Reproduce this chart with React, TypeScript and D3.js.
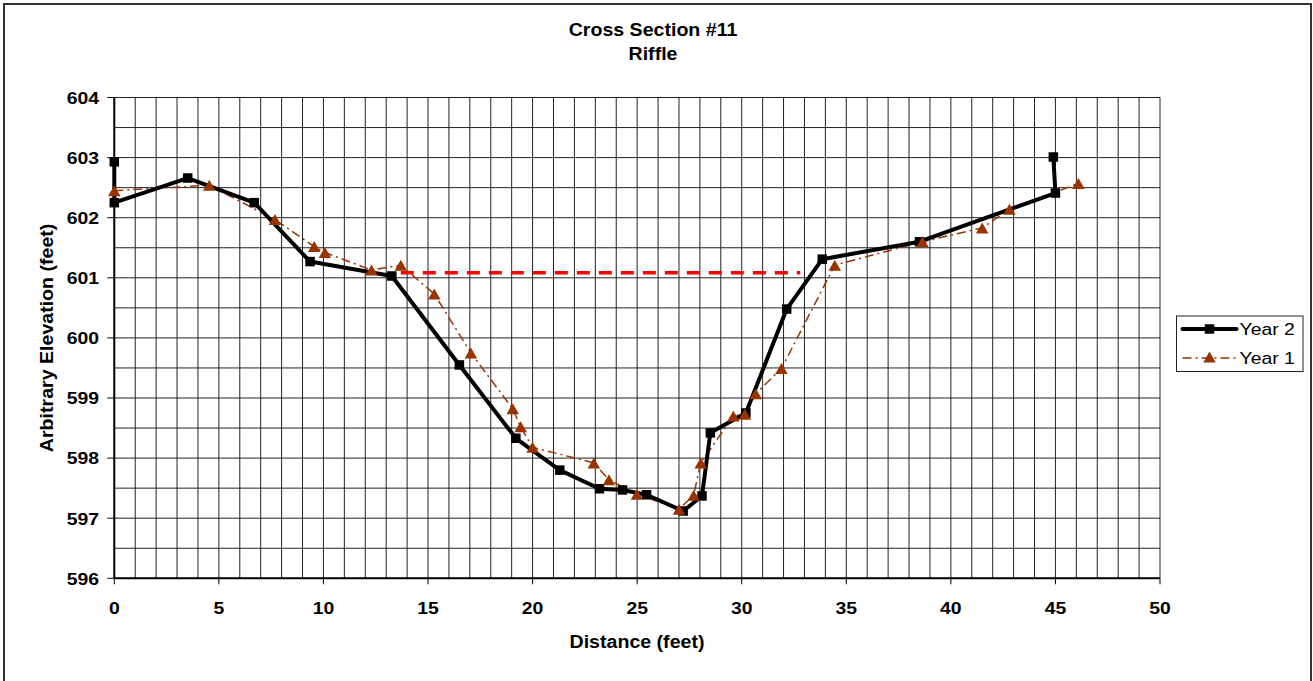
import React from "react";
import * as d3 from "d3";

const year2X = [0, 0, 3.51, 6.69, 9.36, 13.27, 16.5, 19.2, 21.3, 23.2, 24.3, 25.45, 27.2, 28.1, 28.5, 30.2, 32.15, 33.85, 38.5, 45.0, 44.9];
const year2Y = [602.93, 602.25, 602.66, 602.25, 601.27, 601.03, 599.55, 598.33, 597.8, 597.49, 597.47, 597.39, 597.12, 597.37, 598.42, 598.75, 600.48, 601.31, 601.6, 602.41, 603.01];

const year1X = [0, 4.54, 7.68, 9.56, 10.07, 12.3, 13.7, 15.3, 17.05, 19.05, 19.43, 20.0, 22.93, 23.65, 24.99, 27.0, 27.7, 28.04, 29.6, 30.15, 30.67, 31.9, 34.45, 38.64, 41.5, 42.8, 46.1];
const year1Y = [602.45, 602.54, 601.97, 601.52, 601.42, 601.13, 601.21, 600.73, 599.75, 598.82, 598.52, 598.18, 597.92, 597.64, 597.4, 597.15, 597.38, 597.92, 598.7, 598.73, 599.07, 599.49, 601.21, 601.6, 601.83, 602.14, 602.57];

const bankfullX = [13.7, 32.8];
const bankfullY = [601.085, 601.085];

const xTicks = [0, 5, 10, 15, 20, 25, 30, 35, 40, 45, 50];
const yTicks = [596, 597, 598, 599, 600, 601, 602, 603, 604];

const seriesNames = ["Year 2", "Year 1"];

const W = 1313;
const H = 681;
const left = 114.3;
const right = 1160;
const top = 97.5;
const bottom = 578.3;
const FONT = "'Liberation Sans', Arial, sans-serif";
const Y1COLOR = "#993300";
const SX = 1.12;

function T(props: {
  x: number;
  y: number;
  size: number;
  anchor?: string;
  bold?: boolean;
  rotate?: number;
  children: React.ReactNode;
}) {
  const { x, y, size, anchor = "start", bold = false, rotate = 0, children } = props;
  return (
    <text
      transform={`translate(${x},${y}) rotate(${rotate}) scale(${SX},1)`}
      textAnchor={anchor}
      fontWeight={bold ? "bold" : "normal"}
      fontSize={size}
      fill="#000"
    >
      {children}
    </text>
  );
}

export default function App() {
  const x = d3.scaleLinear().domain([0, 50]).range([left, right]);
  const y = d3.scaleLinear().domain([596, 604]).range([bottom, top]);

  const vGrid = d3.range(0, 51, 1);
  const hGrid = d3.range(596, 604.01, 0.5);

  const line = d3
    .line<[number, number]>()
    .x((d) => x(d[0]))
    .y((d) => y(d[1]));

  const y2pts: [number, number][] = year2X.map((v, i) => [v, year2Y[i]]);
  const y1pts: [number, number][] = year1X.map((v, i) => [v, year1Y[i]]);
  const bfpts: [number, number][] = bankfullX.map((v, i) => [v, bankfullY[i]]);

  const sq = 9.5;
  const triW = 12.5;
  const triH = 11;
  const tri = (cx: number, cy: number) =>
    `M${cx},${cy - triH / 2}L${cx + triW / 2},${cy + triH / 2}L${cx - triW / 2},${cy + triH / 2}Z`;

  const legX = 1176.5;
  const legY = 316;

  return (
    <svg
      width={W}
      height={H}
      style={{ position: "absolute", left: 0, top: 0, background: "#fff" }}
      fontFamily={FONT}
    >
      <rect x={4} y={4} width={1307} height={700} fill="#fff" stroke="#333" strokeWidth={2} />

      <T x={653} y={36} size={17.5} anchor="middle" bold>
        Cross Section #11
      </T>
      <T x={653} y={60} size={17.5} anchor="middle" bold>
        Riffle
      </T>

      {/* grid */}
      <g stroke="#222" strokeWidth={1}>
        {vGrid.map((v) => (
          <line key={"v" + v} x1={x(v)} x2={x(v)} y1={top} y2={bottom} />
        ))}
        {hGrid.map((v) => (
          <line key={"h" + v} x1={left} x2={right} y1={y(v)} y2={y(v)} />
        ))}
      </g>

      {/* axes */}
      <line x1={left} x2={left} y1={top} y2={bottom} stroke="#000" strokeWidth={2} />
      <line x1={left} x2={right} y1={bottom} y2={bottom} stroke="#000" strokeWidth={2} />
      {yTicks.map((t) => (
        <g key={"yt" + t}>
          <line x1={left - 7} x2={left} y1={y(t)} y2={y(t)} stroke="#000" strokeWidth={1} />
          <T x={99} y={y(t) + 6.3} size={17.3} anchor="end" bold>
            {t}
          </T>
        </g>
      ))}
      {xTicks.map((t) => (
        <g key={"xt" + t}>
          <line x1={x(t)} x2={x(t)} y1={bottom} y2={bottom + 6} stroke="#000" strokeWidth={1} />
          <T x={x(t)} y={613.5} size={17.3} anchor="middle" bold>
            {t}
          </T>
        </g>
      ))}
      <T x={637} y={648} size={17.5} anchor="middle" bold>
        Distance (feet)
      </T>
      <T x={53} y={(top + bottom) / 2} size={17.5} anchor="middle" bold rotate={-90}>
        Arbitrary Elevation (feet)
      </T>

      {/* bankfull line */}
      <path d={line(bfpts) || ""} fill="none" stroke="#ff0000" strokeWidth={3.5} strokeDasharray="13,9" />

      {/* Year 1 */}
      <path
        d={line(y1pts) || ""}
        fill="none"
        stroke={Y1COLOR}
        strokeWidth={1.5}
        strokeDasharray="9,4,2,4"
      />
      {/* Year 2 */}
      <path d={line(y2pts) || ""} fill="none" stroke="#000" strokeWidth={4} strokeLinejoin="round" />
      {y2pts.map((p, i) => (
        <rect key={"s" + i} x={x(p[0]) - sq / 2} y={y(p[1]) - sq / 2} width={sq} height={sq} fill="#000" />
      ))}
      {y1pts.map((p, i) => (
        <path key={"t" + i} d={tri(x(p[0]), y(p[1]))} fill={Y1COLOR} />
      ))}

      {/* legend */}
      <rect x={legX} y={legY} width={126.5} height={55.5} fill="#fff" stroke="#222" strokeWidth={1} />
      <line x1={legX + 6} x2={legX + 60} y1={legY + 13} y2={legY + 13} stroke="#000" strokeWidth={4} strokeLinecap="round" />
      <rect x={legX + 33 - sq / 2} y={legY + 13 - sq / 2} width={sq} height={sq} fill="#000" />
      <T x={legX + 63} y={legY + 19} size={17.3}>
        {seriesNames[0]}
      </T>
      <line
        x1={legX + 6}
        x2={legX + 60}
        y1={legY + 42}
        y2={legY + 42}
        stroke={Y1COLOR}
        strokeWidth={1.5}
        strokeDasharray="9,4,2,4"
      />
      <path d={tri(legX + 33, legY + 41)} fill={Y1COLOR} />
      <T x={legX + 63} y={legY + 48} size={17.3}>
        {seriesNames[1]}
      </T>
    </svg>
  );
}
